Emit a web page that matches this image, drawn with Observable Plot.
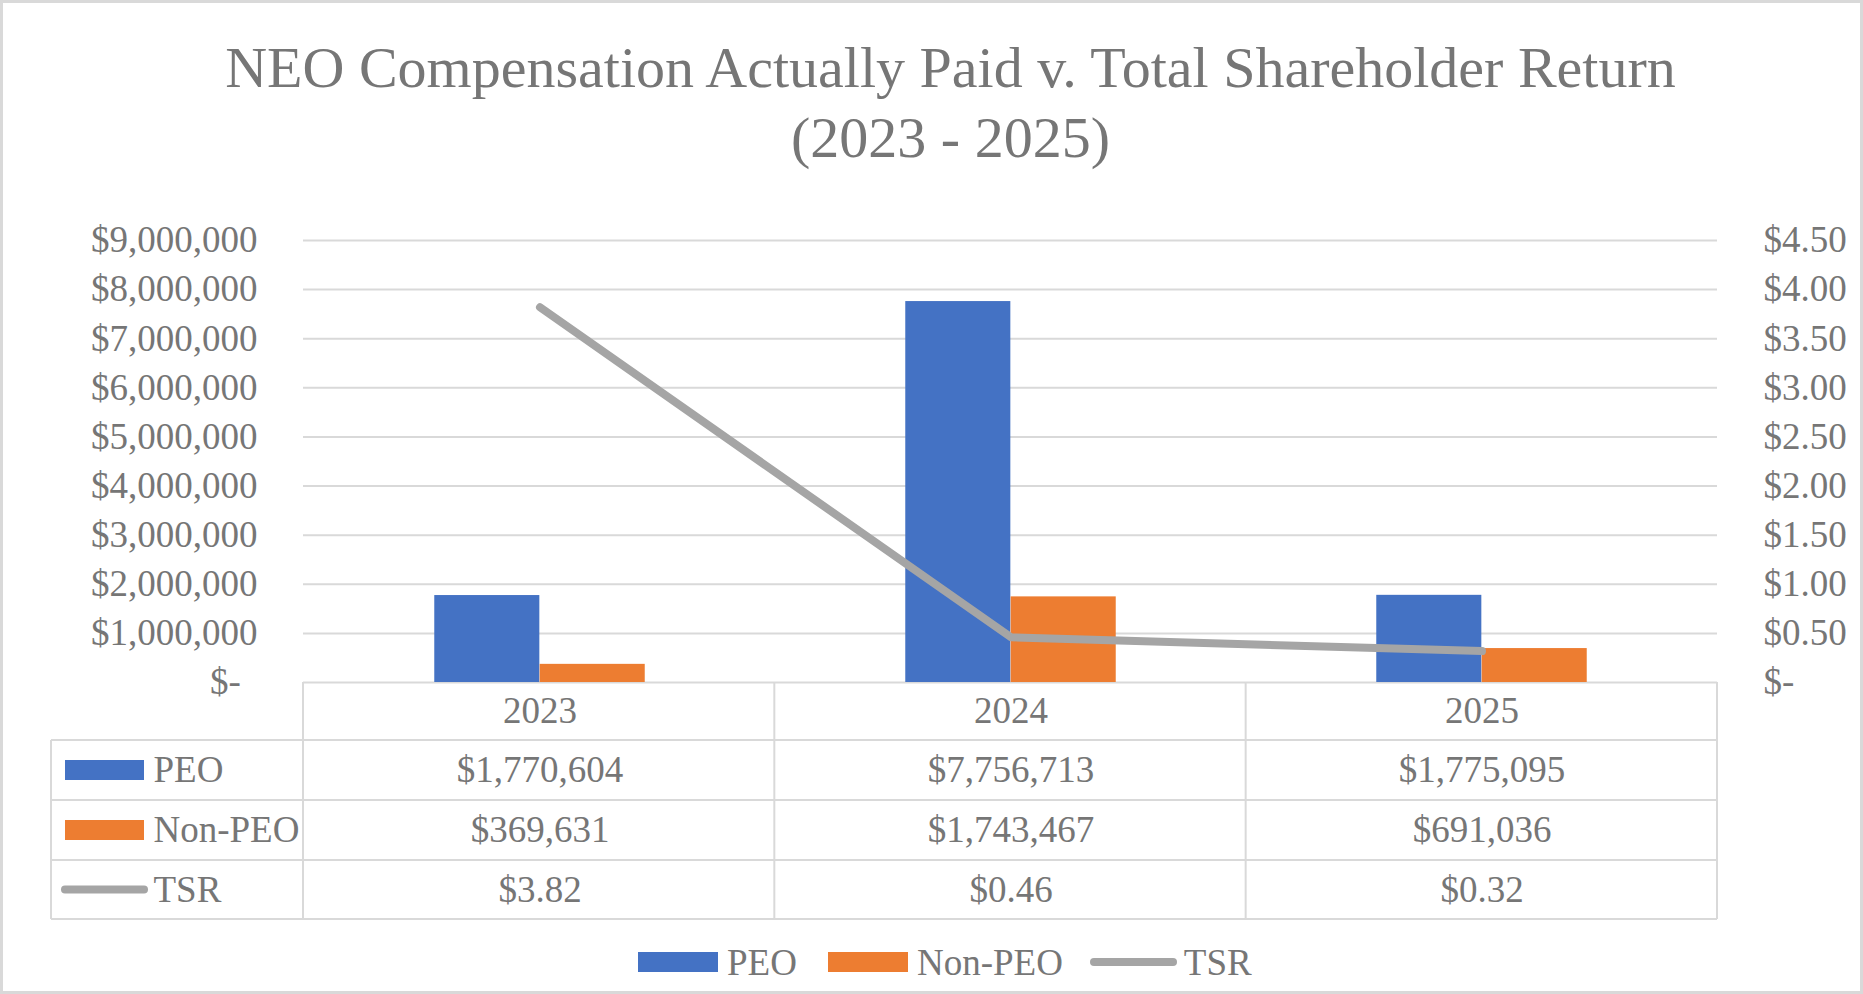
<!DOCTYPE html>
<html>
<head>
<meta charset="utf-8">
<script src="https://cdn.jsdelivr.net/npm/d3@7"></script>
<script src="https://cdn.jsdelivr.net/npm/@observablehq/plot@0.6"></script>
<style>
  html, body { margin: 0; padding: 0; background: #fff; }
  #chart {
    position: relative; width: 1863px; height: 994px; overflow: hidden;
    font-family: "Liberation Serif", "Times New Roman", serif; color: #767676; background: #fff;
  }
  #frame {
    position: absolute; left: 0; top: 0; width: 1863px; height: 994px;
    box-sizing: border-box; border: 3px solid #D9D9D9; pointer-events: none;
  }
  #title {
    height: 190px; box-sizing: border-box; padding-top: 33px; padding-left: 38px;
    text-align: center; font-size: 58px; line-height: 70px; white-space: nowrap;
  }
  #plot svg { display: block; }
  #legend {
    height: 64px; display: flex; align-items: center; padding-left: 638px;
    font-size: 37px; line-height: 1;
  }
  #legend .item { display: flex; align-items: center; }
  #legend .swatch { width: 80px; height: 20px; margin-right: 9px; }
  #legend .linekey { width: 87px; height: 8px; border-radius: 4px; margin-right: 7px; }
</style>
</head>
<body>
<div id="chart">
  <div id="title">NEO Compensation Actually Paid v. Total Shareholder Return<br>(2023 - 2025)</div>
  <div id="plot"></div>
  <div id="legend"></div>
  <div id="frame"></div>
</div>
<script>
// Fiscal years and series
const years = ["2023", "2024", "2025"];
const peo = [1770604, 7756713, 1775095];
const nonPeo = [369631, 1743467, 691036];
const tsr = [3.82, 0.46, 0.32];

// Axis ticks (left: compensation, right: TSR)
const leftTicks = [0, 1000000, 2000000, 3000000, 4000000, 5000000, 6000000, 7000000, 8000000, 9000000];
const leftTickLabels = ["$-\u00a0\u2009", "$1,000,000", "$2,000,000", "$3,000,000", "$4,000,000",
  "$5,000,000", "$6,000,000", "$7,000,000", "$8,000,000", "$9,000,000"];
const rightTickLabels = ["$-", "$0.50", "$1.00", "$1.50", "$2.00", "$2.50", "$3.00", "$3.50", "$4.00", "$4.50"];
// The right axis runs 0–$4.50 against the left axis 0–$9,000,000
const tsrToLeft = 2000000;

const seriesNames = ["PEO", "Non-PEO", "TSR"];
const colors = { "PEO": "#4472C4", "Non-PEO": "#ED7D31", "TSR": "#A5A5A5" };

const rows = years.map((year, i) => ({ year, peo: peo[i], nonPeo: nonPeo[i], tsr: tsr[i] }));

// Layout
const W = 1863, H = 740;
const ML = 303, MR = 146, MT = 50, MB = 248;
const bandW = (W - ML - MR) / years.length;
const barW = 105.4;
const gridColor = "#D9D9D9";
const fmtMoney = v => "$" + d3.format(",")(v);
const fmtTsr = v => "$" + v.toFixed(2);

// Data table offsets below the category axis line
const rowEdges = [0, 58, 118, 178, 237];
const rowCenters = rowEdges.slice(0, -1).map((e, i) => (e + rowEdges[i + 1]) / 2);
const legendColLeft = ML - 252;

// Grid lines and legend keys of the data table under the plot
function dataTable(index, scales, values, dim) {
  const { width, height, marginLeft, marginRight, marginBottom } = dim;
  const base = height - marginBottom;
  const right = width - marginRight;
  const g = d3.create("svg:g").attr("stroke", gridColor).attr("stroke-width", 2).attr("fill", "none");
  // horizontal row lines
  for (const e of rowEdges.slice(1)) {
    g.append("line").attr("x1", legendColLeft).attr("x2", right)
      .attr("y1", base + e).attr("y2", base + e);
  }
  // column lines at band edges
  const xs = years.map((y, i) => marginLeft + i * bandW).concat(right);
  for (const x of xs) {
    g.append("line").attr("x1", x).attr("x2", x).attr("y1", base).attr("y2", base + rowEdges[4]);
  }
  g.append("line").attr("x1", legendColLeft).attr("x2", legendColLeft)
    .attr("y1", base + rowEdges[1]).attr("y2", base + rowEdges[4]);
  // legend keys
  const keyX = legendColLeft + 14;
  g.append("rect").attr("x", keyX).attr("y", base + rowCenters[1] - 10).attr("width", 79).attr("height", 20)
    .attr("fill", colors["PEO"]).attr("stroke", "none");
  g.append("rect").attr("x", keyX).attr("y", base + rowCenters[2] - 10).attr("width", 79).attr("height", 20)
    .attr("fill", colors["Non-PEO"]).attr("stroke", "none");
  g.append("line").attr("x1", keyX).attr("x2", keyX + 79)
    .attr("y1", base + rowCenters[3]).attr("y2", base + rowCenters[3])
    .attr("stroke", colors["TSR"]).attr("stroke-width", 8).attr("stroke-linecap", "round");
  return g.node();
}

const cell = (text, dy) => ({ x: "year", text, frameAnchor: "bottom", lineAnchor: "middle", dy });
const tableTexts = [
  Plot.text(rows, cell("year", rowCenters[0])),
  Plot.text(rows, cell(d => fmtMoney(d.peo), rowCenters[1])),
  Plot.text(rows, cell(d => fmtMoney(d.nonPeo), rowCenters[2])),
  Plot.text(rows, cell(d => fmtTsr(d.tsr), rowCenters[3])),
  ...seriesNames.map((name, i) =>
    Plot.text([name], { text: d => d, frameAnchor: "bottom-left", textAnchor: "start", lineAnchor: "middle",
      dx: legendColLeft + 102 - ML, dy: rowCenters[i + 1] }))
];

const chart = Plot.plot({
  width: W, height: H,
  marginLeft: ML, marginRight: MR, marginTop: MT, marginBottom: MB,
  style: { fontFamily: "'Liberation Serif', 'Times New Roman', serif", fontSize: "37px", color: "#767676", background: "transparent", overflow: "visible" },
  x: { domain: years, padding: 0, axis: null },
  y: { domain: [0, 9000000], label: null },
  marks: [
    Plot.gridY(leftTicks.slice(1), { stroke: gridColor, strokeOpacity: 1, strokeWidth: 2 }),
    Plot.ruleY([0], { stroke: gridColor, strokeWidth: 2 }),
    Plot.axisY(leftTicks, { anchor: "left", tickSize: 0, tickPadding: 46, label: null,
      tickFormat: d => leftTickLabels[leftTicks.indexOf(d)] }),
    Plot.axisY(leftTicks, { anchor: "right", tickSize: 0, tickPadding: 46, label: null,
      tickFormat: d => rightTickLabels[leftTicks.indexOf(d)] }),
    Plot.barY(rows, { x: "year", y: "peo", fill: colors["PEO"],
      insetLeft: bandW / 2 - barW, insetRight: bandW / 2 }),
    Plot.barY(rows, { x: "year", y: "nonPeo", fill: colors["Non-PEO"],
      insetLeft: bandW / 2, insetRight: bandW / 2 - barW }),
    Plot.line(rows, { x: "year", y: d => d.tsr * tsrToLeft, stroke: colors["TSR"],
      strokeWidth: 8, strokeLinecap: "round", strokeLinejoin: "round" }),
    dataTable,
    ...tableTexts
  ]
});
document.getElementById("plot").appendChild(chart);

// Series legend below the chart
const legend = d3.select("#legend");
seriesNames.forEach((name, i) => {
  const item = legend.append("div").attr("class", "item").style("margin-right", i === 0 ? "31px" : "27px");
  if (name === "TSR") {
    item.append("span").attr("class", "linekey").style("background", colors[name]);
  } else {
    item.append("span").attr("class", "swatch").style("background", colors[name]);
  }
  item.append("span").text(name);
});
</script>
</body>
</html>
